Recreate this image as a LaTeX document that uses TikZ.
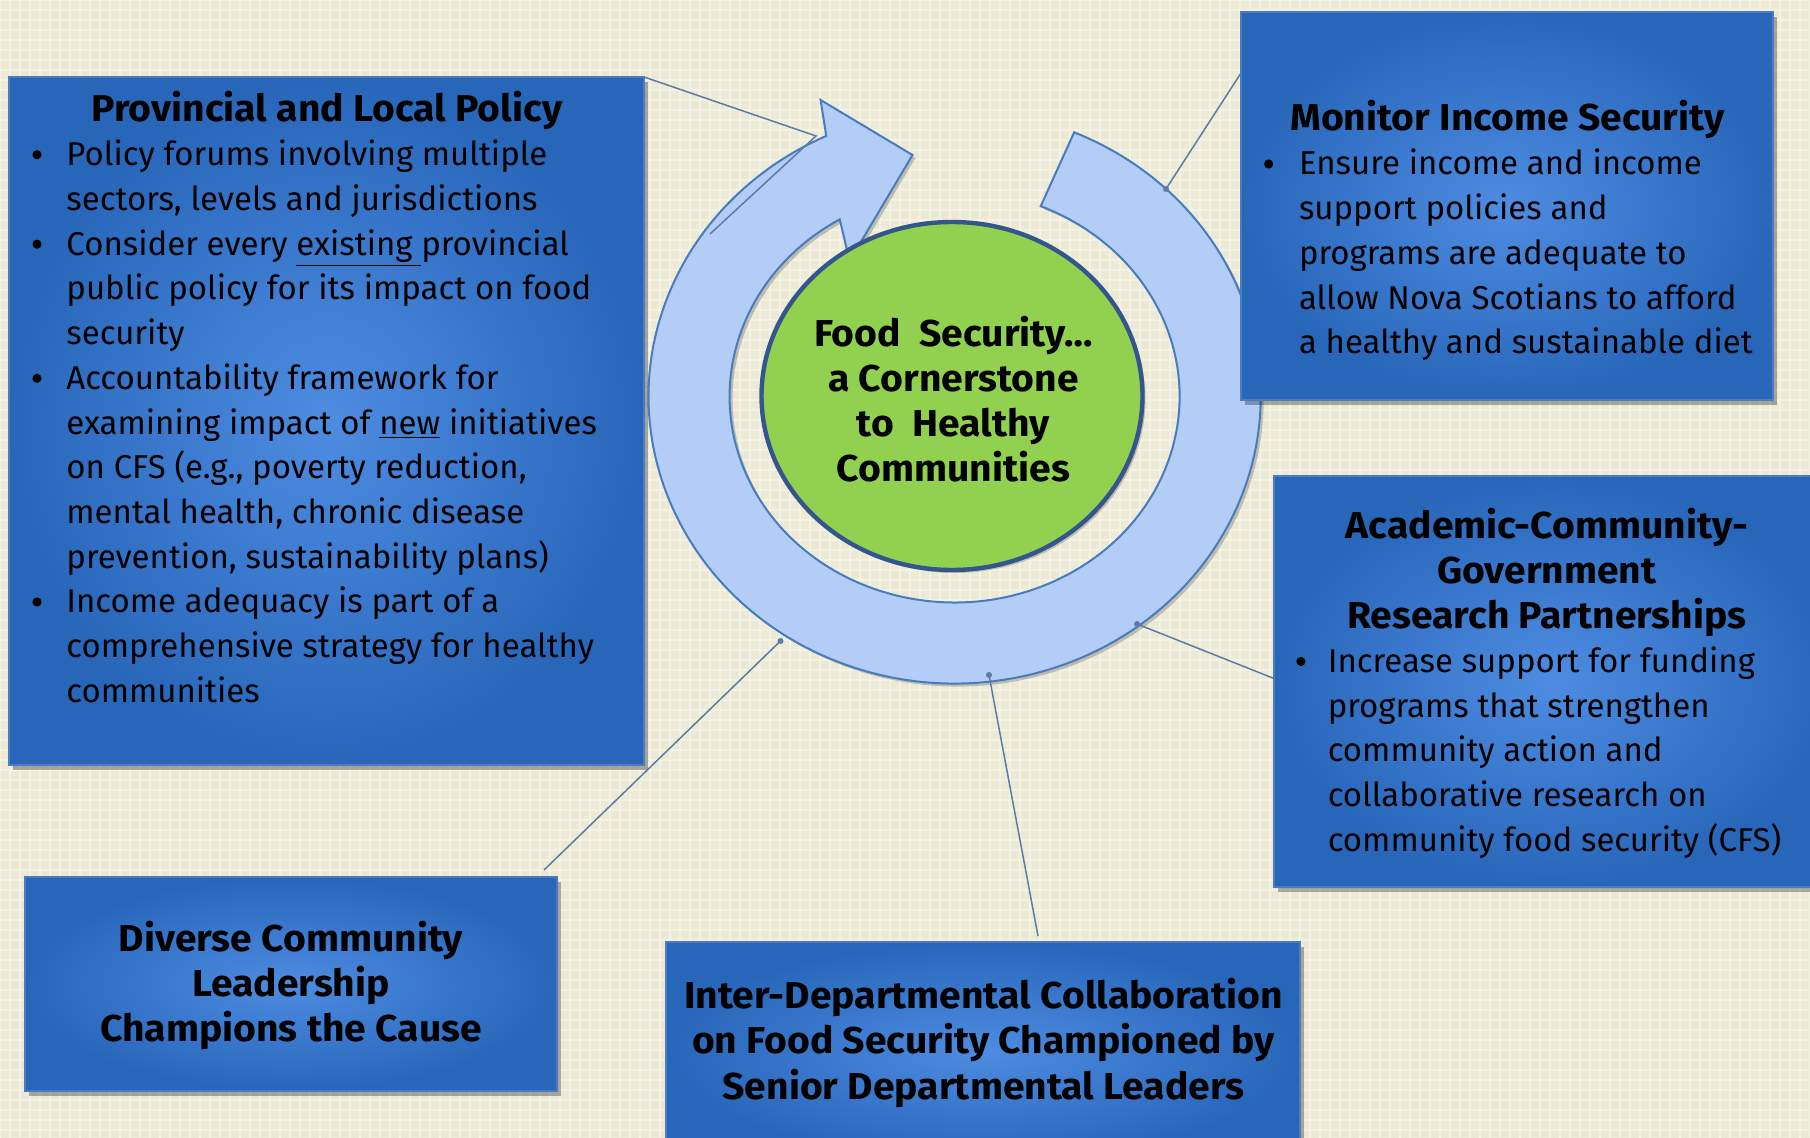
\documentclass[tikz,border=0pt]{standalone}
\usepackage{fontspec}
\usepackage{graphicx}
\setmainfont{Fira Sans}
\usetikzlibrary{shadows,calc,shapes.geometric}
\definecolor{bgc}{RGB}{236,233,213}
\definecolor{bgl}{RGB}{244,242,229}
\definecolor{boxin}{RGB}{78,140,226}
\definecolor{boxout}{RGB}{40,102,186}
\definecolor{boxedge}{RGB}{74,124,196}
\definecolor{ringfill}{RGB}{179,205,246}
\definecolor{ringedge}{RGB}{72,124,192}
\definecolor{greenfill}{RGB}{146,208,80}
\definecolor{greenedge}{RGB}{52,86,140}
\definecolor{connc}{RGB}{92,124,166}
\newcommand{\hstr}[1]{\scalebox{1.045}[1]{#1}}
\begin{document}
\begin{tikzpicture}[x=0.5pt,y=-0.5pt,
  bluebox/.style={shading=radial, inner color=boxin, outer color=boxout,
    draw=boxedge, line width=0.6pt, inner sep=0pt, outer sep=0pt,
    drop shadow={shadow xshift=2pt, shadow yshift=-2.5pt, fill=black, opacity=0.3}},
  body/.style={font=\fontsize{16.5}{20}\selectfont, inner sep=0pt, text=black},
  head/.style={font=\fontsize{18.7}{20}\selectfont\bfseries, inner sep=0pt, text=black},
  bulletdot/.style={circle, fill=black, minimum size=4.6pt, inner sep=0pt},
  connline/.style={draw=connc, line width=0.75pt},
  ringstyle/.style={fill=ringfill, draw=ringedge, line width=1pt, line join=miter,
    drop shadow={shadow xshift=1.5pt, shadow yshift=-1.5pt, fill=black, opacity=0.2}}]
\useasboundingbox (0,0) rectangle (1810,1138);
\clip (0,0) rectangle (1810,1138);
% background
\fill[bgc] (0,0) rectangle (1810,1138);
\draw[bgl, line width=0.8pt, xstep=5pt, ystep=5pt] (0,1138) grid (1810,0);

% circular arrow
\coordinate (C) at (954.6,396.5);
\path[ringstyle] ($(C)+(-67:306 and 287)$)
  arc[start angle=-67, end angle=245.2, x radius=306, y radius=287]
  -- (820.6,100) -- (912.5,155) -- (849.6,261)
  -- ($(C)+(239.3:225 and 206)$)
  arc[start angle=239.3, end angle=-67.5, x radius=225, y radius=206]
  -- cycle;

% green core
\node[ellipse, fill=greenfill, draw=greenedge, line width=2.2pt, inner sep=0pt,
  minimum width=190.5pt, minimum height=174pt,
  drop shadow={shadow xshift=1.5pt, shadow yshift=-1.5pt, fill=black, opacity=0.2}]
  (core) at (952,396) {};

% boxes
\node[bluebox, anchor=north west, minimum width=317.5pt, minimum height=344pt] (prov) at (9,77) {};
\node[bluebox, anchor=north west, minimum width=266pt, minimum height=194pt] (mon) at (1241,12) {};
\node[bluebox, anchor=north west, minimum width=278pt, minimum height=205.5pt] (acad) at (1274,476) {};
\node[bluebox, anchor=north west, minimum width=266pt, minimum height=107pt] (div) at (25,877) {};
\node[bluebox, anchor=north west, minimum width=317pt, minimum height=109pt] (inter) at (666,942) {};

% connectors
\coordinate (provBend) at (816,136);
\coordinate (provEnd) at (710,234);
\coordinate (monDot) at (1166,189);
\coordinate (monIn) at (1241,73);
\coordinate (acadDot) at (1137,624);
\coordinate (acadIn) at (1274,678.5);
\coordinate (interDot) at (989,675);
\coordinate (interIn) at (1038,936);
\coordinate (divDot) at (780.5,641);
\coordinate (divIn) at (544,870);
\draw[connline] (prov.north east) -- (provBend) -- (provEnd);
\draw[connline] (monDot) -- (monIn);
\draw[connline] (acadDot) -- (acadIn);
\draw[connline] (interDot) -- (interIn);
\draw[connline] (divDot) -- (divIn);
\foreach \d in {monDot,acadDot,interDot,divDot}
  \fill[connc] (\d) circle[radius=3];

% core text
\foreach \t [count=\i] in {{Food\ \ Security…},{a Cornerstone},{to\ \ Healthy},{Communities}}
  \node[head, anchor=base] (c\i) at (953.5,{346.7+(\i-1)*45}) {\hstr{\t}};

% Provincial and Local Policy
\node[head, anchor=base] (provt) at (327,121.7) {\hstr{Provincial and Local Policy}};
\foreach \t [count=\i] in {{Policy forums involving multiple},
  {sectors, levels and jurisdictions},
  {Consider every \underline{existing\ }provincial},
  {public policy for its impact on food},
  {security},
  {Accountability framework for},
  {examining impact of \underline{new} initiatives},
  {on CFS (e.g., poverty reduction,},
  {mental health, chronic disease},
  {prevention, sustainability plans)},
  {Income adequacy is part of a},
  {comprehensive strategy for healthy},
  {communities}}
  \node[body, anchor=base west] (p\i) at (66,{165.7+(\i-1)*44.73}) {\t};
\foreach \i in {1,3,6,11}
  \node[bulletdot] (pb\i) at (37,{154.7+(\i-1)*44.73}) {};

% Monitor Income Security
\node[head, anchor=base] (mont) at (1507.5,131) {\hstr{Monitor Income Security}};
\foreach \t [count=\i] in {{Ensure income and income},
  {support policies and},
  {programs are adequate to},
  {allow Nova Scotians to afford},
  {a healthy and sustainable diet}}
  \node[body, anchor=base west] (m\i) at (1298.6,{175+(\i-1)*44.7}) {\t};
\node[bulletdot] (mb1) at (1268.6,164) {};

% Academic-Community-Government
\foreach \t [count=\i] in {{Academic-Community-},{Government},{Research Partnerships}}
  \node[head, anchor=base] (at\i) at (1546.8,{538.4+(\i-1)*45}) {\hstr{\t}};
\foreach \t [count=\i] in {{Increase support for funding},
  {programs that strengthen},
  {community action and},
  {collaborative research on},
  {community food security (CFS)}}
  \node[body, anchor=base west] (a\i) at (1327.4,{672.5+(\i-1)*44.7}) {\t};
\node[bulletdot] (ab1) at (1300.9,661.5) {};

% Diverse Community Leadership
\foreach \t [count=\i] in {{Diverse Community},{Leadership},{Champions the Cause}}
  \node[head, anchor=base] (d\i) at (291,{951.6+(\i-1)*45}) {\hstr{\t}};

% Inter-Departmental
\foreach \t [count=\i] in {{Inter-Departmental Collaboration},{on Food Security Championed by},{Senior Departmental Leaders}}
  \node[head, anchor=base] (i\i) at (983.5,{1008.2+(\i-1)*45.5}) {\hstr{\t}};
\end{tikzpicture}
\end{document}
